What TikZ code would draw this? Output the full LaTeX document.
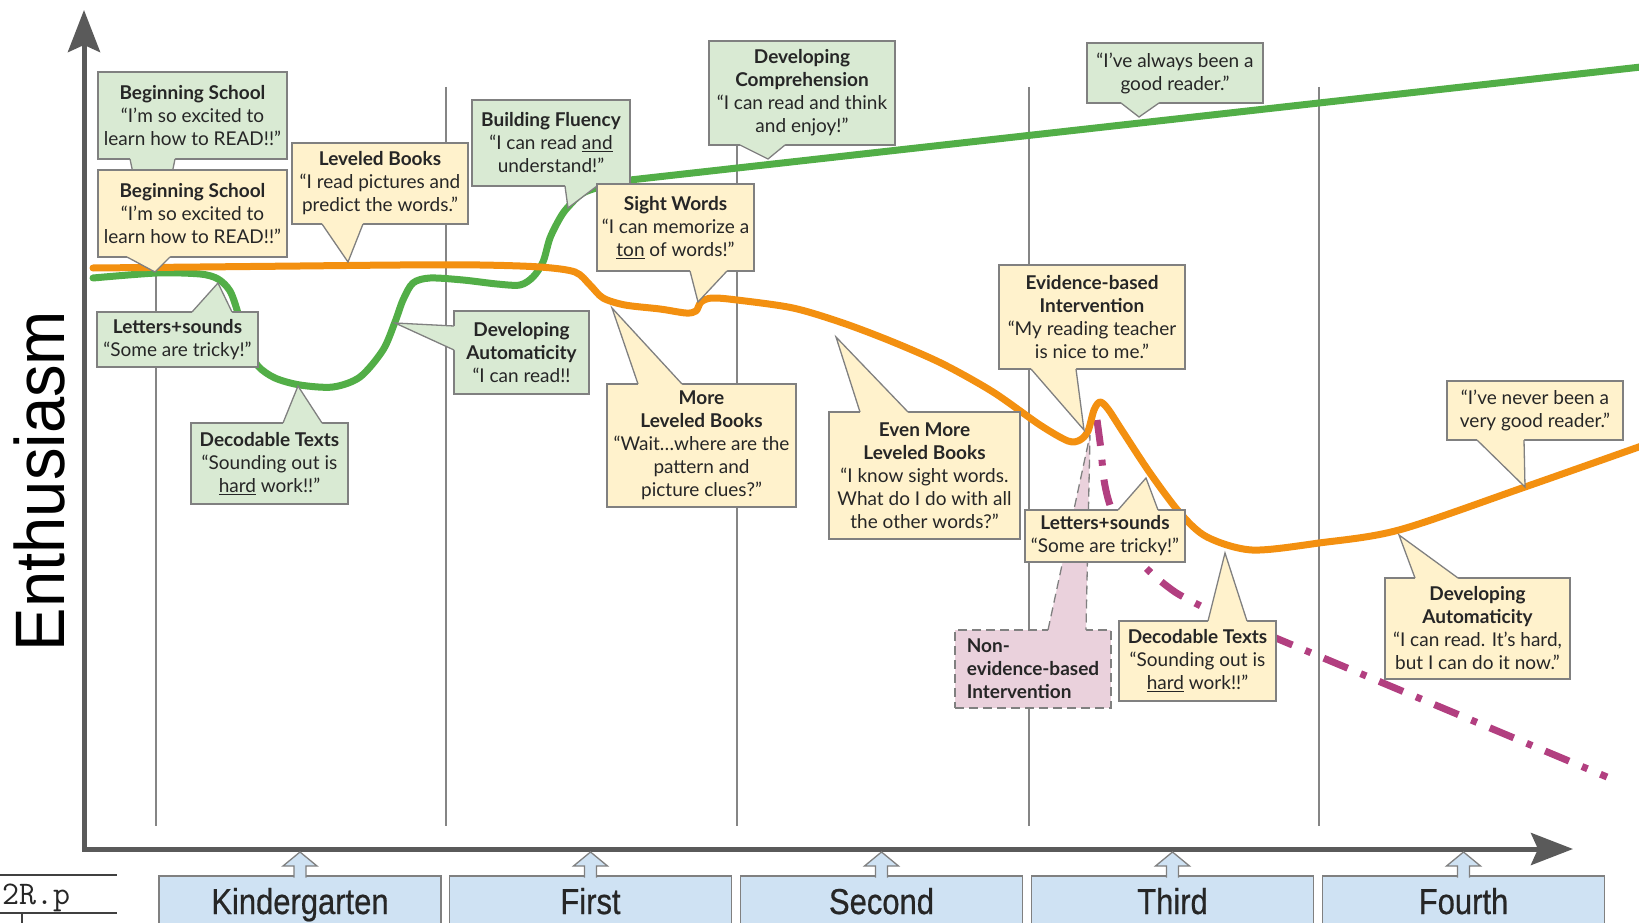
\documentclass[tikz,border=0pt]{standalone}
\usepackage{fontspec}
\setmainfont{Lato}
\newfontfamily\gradefont[FakeStretch=0.86, FakeBold=0.6]{Liberation Sans}
\newfontfamily\axislabelfont[FakeStretch=0.93]{Liberation Sans}
\usetikzlibrary{calc,arrows.meta}

\definecolor{gfill}{HTML}{D9EAD3}
\definecolor{yfill}{HTML}{FFF2CC}
\definecolor{pfill}{HTML}{EAD1DC}
\definecolor{bfill}{HTML}{CFE2F3}
\definecolor{boxline}{HTML}{808080}
\definecolor{txt}{HTML}{262626}
\definecolor{axisgray}{HTML}{5A5A5A}
\definecolor{gridgray}{HTML}{858585}
\definecolor{greenline}{HTML}{52AE47}
\definecolor{orangeline}{HTML}{F39010}
\definecolor{magentaline}{HTML}{B23F80}

\newcommand\boxtext{\fontsize{19}{23}\selectfont}

% wedge of a callout: #1 style, #2 box, #3 anchor, #4/#5 base offsets, #6 tip, #7 inward nudge
\newcommand\callptr[7]{%
  \coordinate (#2-a) at ($(#2.#3)+(#4)$);
  \coordinate (#2-b) at ($(#2.#3)+(#5)$);
  \coordinate (#2-tip) at (#6);
  \fill[#1, draw=none] ($(#2-a)+(#7)$) -- (#2-a) -- (#2-tip) -- (#2-b) -- ($(#2-b)+(#7)$) -- cycle;
  \draw[#1, fill=none] (#2-a) -- (#2-tip) -- (#2-b);
}
% hollow block arrow from a grade box up to the time axis
\newcommand\gradearrow[1]{%
  \filldraw[gradearrow] ([xshift=-6pt,yshift=-1.5pt]#1.north) -- ++(0,-11.5) -- ++(-11,0)
    -- ++(17,-14) -- ++(17,14) -- ++(-11,0) -- ++(0,11.5);
}

\begin{document}
\begin{tikzpicture}[x=1pt, y=-1pt,
  wh/.style 2 args={minimum width=#1pt, minimum height=#2pt},
  callbox/.style={draw=boxline, line width=1.3pt, inner sep=0pt, outer sep=0pt,
    align=center, font=\boxtext, text=txt},
  gbox/.style={callbox, fill=gfill},
  ybox/.style={callbox, fill=yfill},
  pbox/.style={callbox, fill=pfill, dash pattern=on 9pt off 5pt, align=left},
  gptr/.style={fill=gfill, draw=boxline, line width=1.3pt, line join=miter},
  yptr/.style={fill=yfill, draw=boxline, line width=1.3pt, line join=miter},
  pptr/.style={fill=pfill, draw=boxline, line width=1.3pt, dash pattern=on 9pt off 5pt},
  gridline/.style={draw=gridgray, line width=1.5pt},
  axis/.style={draw=axisgray, line width=5pt, line join=miter,
    {Stealth[length=42pt,width=32pt,inset=7pt]}-{Stealth[length=42pt,width=32pt,inset=7pt]}},
  gradebox/.style={anchor=north, minimum width=282pt, minimum height=80pt, fill=bfill,
    draw=boxline, line width=1.3pt, outer sep=0pt},
  gradelabel/.style={anchor=base, inner sep=0pt, text=txt,
    font=\gradefont\fontsize{36}{36}\selectfont},
  gradearrow/.style={fill=bfill, draw=boxline, line width=1.3pt, line join=miter},
  curve/.style={line width=7pt, line cap=round, line join=round},
  artline/.style={draw=black!75, line width=1.2pt}
]
\useasboundingbox (0,0) rectangle (1639,923);
\clip (0,0) rectangle (1639,923);

% grade year separators
\foreach \gx in {156,446,737,1029,1319}
  \draw[gridline] (\gx,87) -- (\gx,826);

% axes
\coordinate (origin) at (84,849);
\coordinate (ytip) at (84,10);
\coordinate (xtip) at (1573,849);
\draw[axis] (ytip) -- (origin) -- (xtip);

\node[rotate=90, inner sep=0pt, text=black,
  font=\axislabelfont\fontsize{70}{70}\selectfont] (ylabel) at (39,481) {Enthusiasm};

% grade years
\node[gradebox] (kbox) at (300,876) {};
\node[gradebox] (firstbox) at (590.5,876) {};
\node[gradebox] (secondbox) at (881.5,876) {};
\node[gradebox] (thirdbox) at (1172.5,876) {};
\node[gradebox] (fourthbox) at (1463.5,876) {};
\node[gradelabel] (klbl) at (300,914) {Kindergarten};
\node[gradelabel] (firstlbl) at (590.5,914) {First};
\node[gradelabel] (secondlbl) at (881.5,914) {Second};
\node[gradelabel] (thirdlbl) at (1172.5,914) {Third};
\node[gradelabel] (fourthlbl) at (1463.5,914) {Fourth};
\gradearrow{kbox}
\gradearrow{firstbox}
\gradearrow{secondbox}
\gradearrow{thirdbox}
\gradearrow{fourthbox}

% page reference fragment in the corner
\draw[artline] (0,875) -- (117,875);
\draw[artline] (0,913) -- (117,913);
\draw[artline] (22,913) -- (22,923);
\node[anchor=base west, inner sep=0pt, text=black!85,
  font=\ttfamily\fontsize{33}{33}\selectfont] (pageref) at (2,904) {2R.p};

% skilled reader path
\draw[curve, greenline] plot[smooth, tension=0.5] coordinates {
  (93,278) (157,273) (200,274) (218,279) (230,291) (238,313) (247,345) (258,366)
  (275,378) (300,385) (333,387) (360,377) (383,350) (395,322) (403,300) (413,283)
  (430,278) (463,280) (497,284) (520,285) (533,277) (543,262) (550,238) (560,218)
  (568,207) (583,193) (607,185) (630,180)} -- (1650,66);

% non-evidence-based path
\draw[curve, magentaline, line cap=butt, dash pattern=on 26pt off 14pt on 6pt off 14pt]
  plot[smooth, tension=0.5] coordinates {
  (1097,420) (1101,450) (1104,480) (1110,505) (1125,540) (1145,567) (1175,592) (1209,610)}
  -- (1607,777);

% struggling reader path
\draw[curve, orangeline] plot[smooth, tension=0.5] coordinates {
  (93,268) (200,267) (300,266) (400,265) (480,265) (540,267) (575,272) (590,285)
  (603,298) (625,305) (660,309) (686,313) (696,311) (701,302) (712,298) (737,300)
  (793,308) (843,323) (893,342) (943,364) (993,392) (1040,425) (1068,441) (1080,440)
  (1088,431) (1094,410) (1100,402) (1108,409) (1123,432) (1150,473) (1180,513)
  (1207,537) (1252,550) (1319,543) (1399,530) (1525,487) (1650,443)};

% callouts
\node[gbox, wh={189}{87}] (gBS) at (192.5,115.5)
  {\textbf{Beginning School}\\“I’m so excited to\\learn how to READ!!”};
\callptr{gptr}{gBS}{south west}{32,0}{77,0}{153,268}{0,-2}

\node[ybox, wh={189}{87}] (yBS) at (192.5,213.5)
  {\textbf{Beginning School}\\“I’m so excited to\\learn how to READ!!”};
\callptr{yptr}{yBS}{south west}{29,0}{72,0}{155,272}{0,-2}

\node[ybox, wh={176}{81}] (yLB) at (380,183.5)
  {\textbf{Leveled Books}\\“I read pictures and\\predict the words.”};
\callptr{yptr}{yLB}{south west}{30,0}{71,0}{348,262}{0,-2}

\node[gbox, wh={161}{55}] (gLS) at (177.5,339.5)
  {\textbf{Letters+sounds}\\“Some are tricky!”};
\callptr{gptr}{gLS}{north west}{95,0}{135,0}{218,283}{0,2}

\node[gbox, wh={157}{81}] (gDT) at (269.5,463.5)
  {\textbf{Decodable Texts}\\“Sounding out is\\\underline{hard} work!!”};
\callptr{gptr}{gDT}{north west}{92,0}{131,0}{298,386}{0,2}

\node[gbox, wh={135}{83}] (gDA) at (521.5,352.5)
  {\textbf{Developing}\\\textbf{Automaticity}\\“I can read!!};
\callptr{gptr}{gDA}{north west}{0,15}{0,39}{395,323}{2,0}

\node[gbox, wh={158}{86}] (gBF) at (551,143)
  {\textbf{Building Fluency}\\“I can read \underline{and}\\understand!”};
\callptr{gptr}{gBF}{south west}{93,0}{125,0}{568,208}{0,-2}

\node[gbox, wh={186}{104}] (gDC) at (802,93)
  {\textbf{Developing}\\\textbf{Comprehension}\\“I can read and think\\and enjoy!”};
\callptr{gptr}{gDC}{south west}{31,0}{76,0}{768,159}{0,-2}

\node[ybox, wh={157}{87}] (ySW) at (675.5,227.5)
  {\textbf{Sight Words}\\“I can memorize a\\\underline{ton} of words!”};
\callptr{yptr}{ySW}{south west}{93,0}{130,0}{698,302}{0,-2}

\node[gbox, wh={176}{60}] (gAG) at (1175,73)
  {“I’ve always been a\\good reader.”};
\callptr{gptr}{gAG}{south west}{34,0}{72,0}{1139,117}{0,-2}

\node[ybox, wh={189}{123}] (yML) at (701.5,445.5)
  {\textbf{More}\\\textbf{Leveled Books}\\“Wait…where are the\\pattern and\\picture clues?”};
\callptr{yptr}{yML}{north west}{31,0}{75,0}{612,308}{0,2}

\node[ybox, wh={191}{127}] (yEM) at (924.5,475.5)
  {\textbf{Even More}\\\textbf{Leveled Books}\\“I know sight words.\\What do I do with all\\the other words?”};
\callptr{yptr}{yEM}{north west}{31,0}{79,0}{836,337}{0,2}

\node[ybox, wh={186}{104}] (yEB) at (1092,317)
  {\textbf{Evidence-based}\\\textbf{Intervention}\\“My reading teacher\\is nice to me.”};
\callptr{yptr}{yEB}{south west}{32,0}{77,0}{1084,430}{0,-2}

\node[pbox, wh={156}{78}] (pNE) at (1033,669)
  {\textbf{Non-}\\\textbf{evidence-based}\\\textbf{Intervention}};
\callptr{pptr}{pNE}{north west}{93,0}{131,0}{1090,435}{0,2}

\node[ybox, wh={160}{52}] (yLS) at (1105,536)
  {\textbf{Letters+sounds}\\“Some are tricky!”};
\callptr{yptr}{yLS}{north west}{93,0}{133,0}{1146,478}{0,2}

\node[ybox, wh={157}{80}] (yDT) at (1197.5,661)
  {\textbf{Decodable Texts}\\“Sounding out is\\\underline{hard} work!!”};
\callptr{yptr}{yDT}{north west}{89,0}{128,0}{1225,553}{0,2}

\node[ybox, wh={185}{101}] (yDA) at (1477.5,628.5)
  {\textbf{Developing}\\\textbf{Automaticity}\\“I can read. It’s hard,\\but I can do it now.”};
\callptr{yptr}{yDA}{north west}{30,0}{73,0}{1399,535}{0,2}

\node[ybox, wh={176}{59}] (yNG) at (1535,410.5)
  {“I’ve never been a\\very good reader.”};
\callptr{yptr}{yNG}{south west}{30,0}{77,0}{1525,487}{0,-2}

\end{tikzpicture}
\end{document}
